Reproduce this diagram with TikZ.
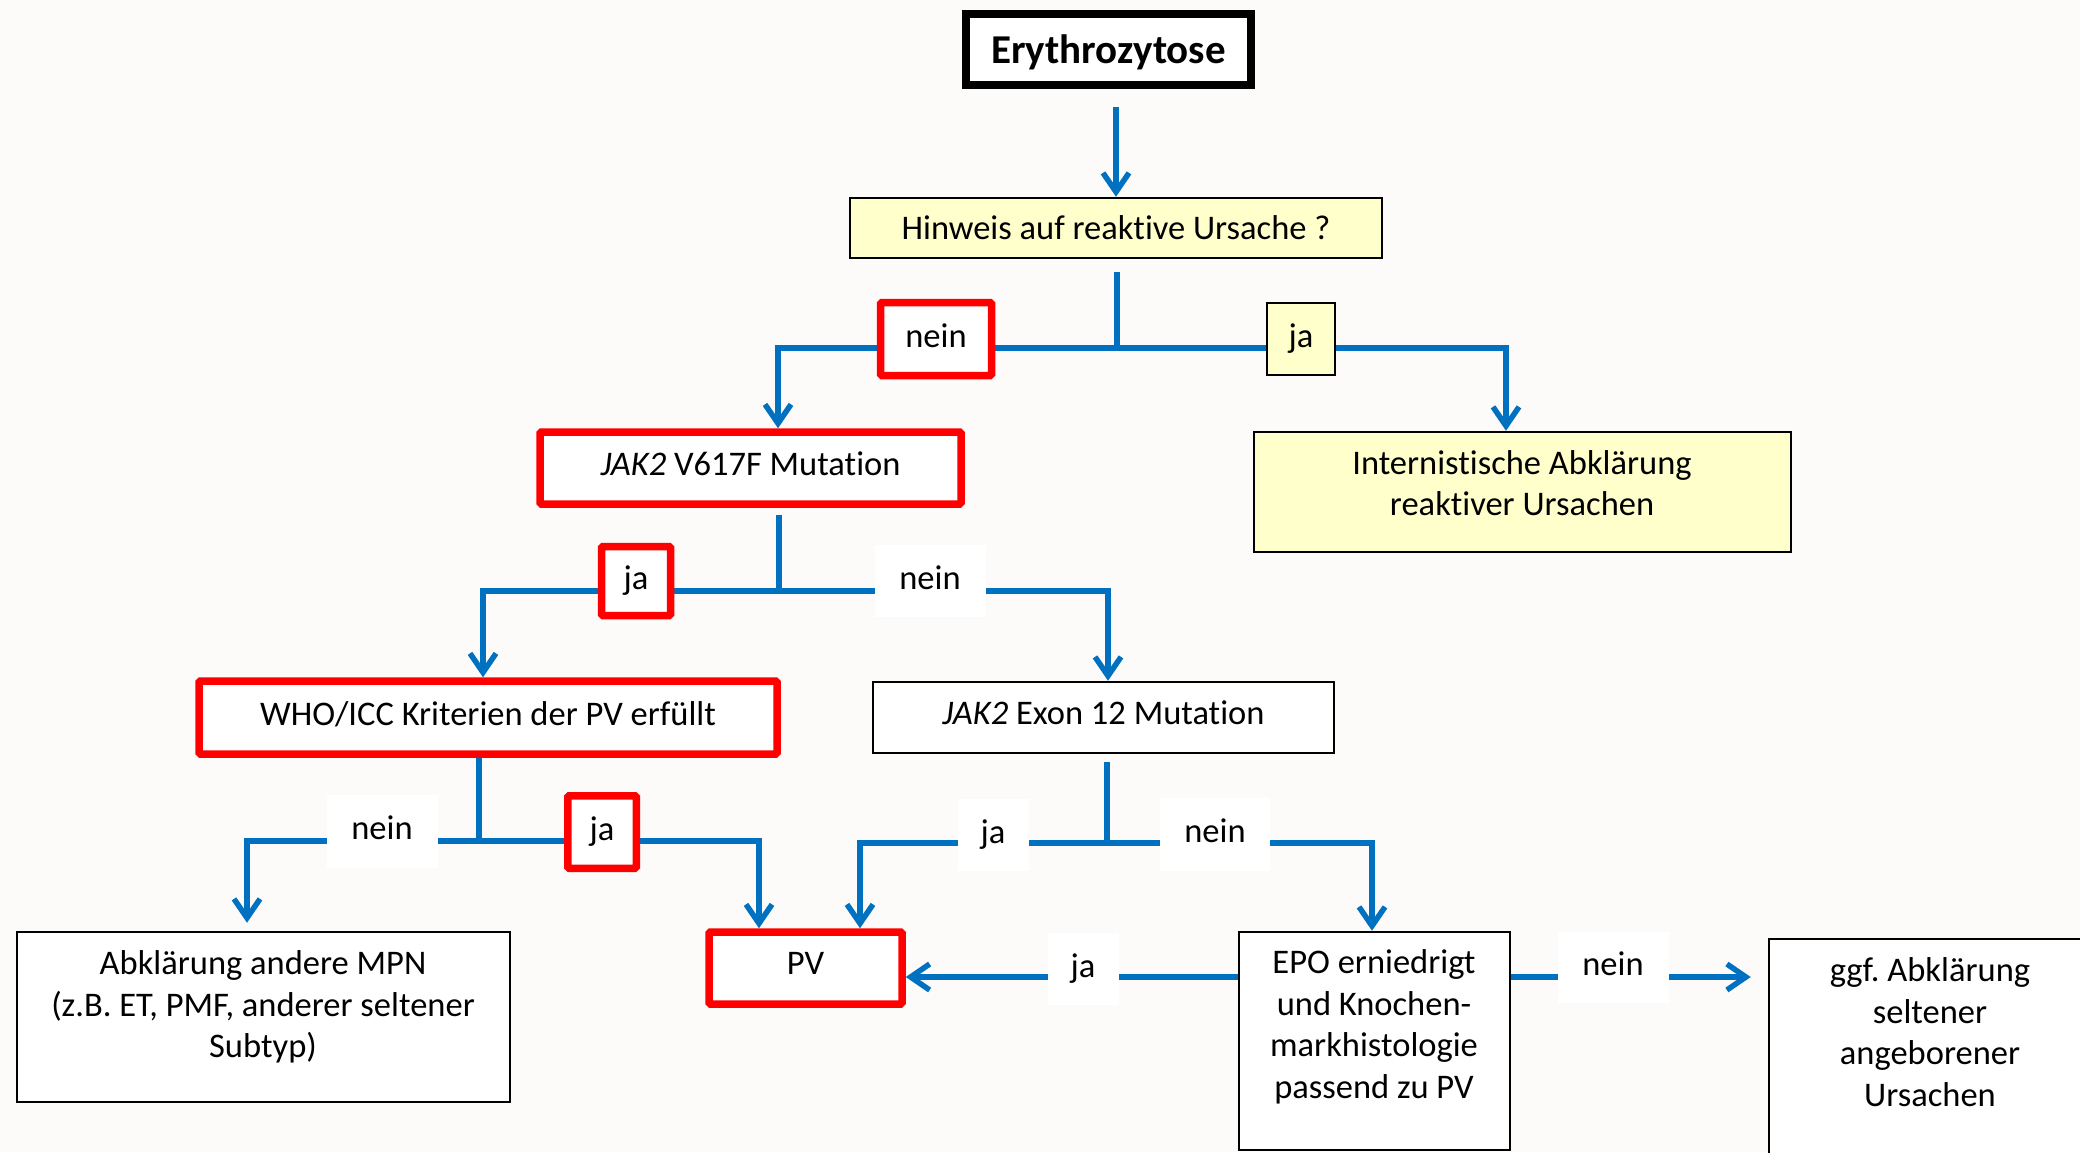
\documentclass[tikz,border=0pt]{standalone}
\usepackage{fontspec}
\setmainfont[Ligatures=NoCommon]{Carlito}
\usetikzlibrary{arrows.meta}
\definecolor{bg}{HTML}{FCFBF9}
\definecolor{cblue}{HTML}{0070C0}
\definecolor{lyellow}{HTML}{FFFFCC}
\frenchspacing
\begin{document}
\begin{tikzpicture}[x=1pt,y=-1pt,
  every node/.style={font=\fontsize{34.5}{41.5}\selectfont\frenchspacing},
  blk/.style={draw=black, line width=2.5pt, fill=white, inner sep=0pt},
  ylw/.style={draw=black, line width=2.5pt, fill=lyellow, inner sep=0pt},
  redbox/.style={draw=red, line width=7.5pt, fill=white, inner sep=0pt, rounded corners=1.5pt},
  lab/.style={fill=white, inner sep=0pt},
  txt/.style={align=center, inner sep=0pt},
  up/.style={text depth=#1},
  conn/.style={draw=cblue, line width=5.5pt},
  arr/.style={conn, -{Straight Barb[length=19pt,width=26pt]}}
]
\useasboundingbox[fill=bg] (0,0) rectangle (2080,1152);

% boxes
\node[draw=black, line width=8pt, fill=white, inner sep=0pt, minimum width=285pt, minimum height=71pt,
      text depth=0pt, font=\fontsize{41}{48}\selectfont\bfseries] (ery) at (1108.5,49.5) {Erythrozytose};
\node[ylw, minimum width=532pt, minimum height=60pt] (hin) at (1116,228) {Hinweis auf reaktive Ursache ?};
\node[redbox, minimum width=421pt, minimum height=72pt, up=9pt] (jak) at (750.5,468) {\textit{JAK2} V617F Mutation};
\node[ylw, minimum width=537pt, minimum height=120pt] (int) at (1522.5,492) {};
\node[txt] (intt) at (1522,483) {Internistische Abklärung\\reaktiver Ursachen};
\node[redbox, minimum width=578pt, minimum height=73pt, up=8pt] (who) at (488,717.5) {WHO/ICC Kriterien der PV erfüllt};
\node[blk, minimum width=461pt, minimum height=71pt, up=9pt] (exon) at (1103.5,717.5) {\textit{JAK2} Exon 12 Mutation};
\node[blk, minimum width=493pt, minimum height=170pt] (abk) at (263.5,1017) {};
\node[txt] (abkt) at (263,1007) {Abklärung andere MPN\\(z.B. ET, PMF, anderer seltener\\Subtyp)};
\node[redbox, minimum width=193pt, minimum height=72pt, up=9pt] (pv) at (805.5,968) {PV};
\node[blk, minimum width=271pt, minimum height=218pt] (epo) at (1374.5,1041) {};
\node[txt] (epot) at (1374,1027) {EPO erniedrigt\\und Knochen-\\markhistologie\\passend zu PV};
\node[blk, minimum width=340pt, minimum height=230pt] (ggf) at (1939,1054) {};
\node[txt] (ggft) at (1930,1032) {ggf. Abklärung\\seltener\\angeborener\\Ursachen};

% connectors
\coordinate (e0) at (1116,107);
\draw[arr] (e0) -- (hin.north);

\coordinate (h0) at (1117,272); \coordinate (h1) at (1117,348);
\coordinate (hL) at (778,348);  \coordinate (hR) at (1506,348);
\draw[conn] (h0) -- (h1);
\draw[arr] (h1) -- (hL) -- (hL |- jak.north);
\draw[arr] (h1) -- (hR) -- (hR |- int.north);

\coordinate (j0) at (779,515); \coordinate (j1) at (779,591);
\coordinate (jL) at (483,591); \coordinate (jR) at (1108,591);
\draw[conn] (j0) -- (j1);
\draw[arr] (j1) -- (jL) -- (jL |- who.north);
\draw[arr] (j1) -- (jR) -- (jR |- exon.north);

\coordinate (w0) at (479,758); \coordinate (w1) at (479,841);
\coordinate (wL) at (247,841); \coordinate (wR) at (759,841);
\draw[conn] (w0) -- (w1);
\draw[arr, shorten >=8pt] (w1) -- (wL) -- (wL |- abk.north);
\draw[arr] (w1) -- (wR) -- (wR |- pv.north);

\coordinate (x0) at (1107,762); \coordinate (x1) at (1107,843);
\coordinate (xL) at (860,843);  \coordinate (xR) at (1372,843);
\draw[conn] (x0) -- (x1);
\draw[arr] (x1) -- (xL) -- (xL |- pv.north);
\draw[arr] (x1) -- (xR) -- (xR |- epo.north);

\draw[arr] ([yshift=64pt]epo.west) -- ([yshift=-9pt]pv.east);
\draw[arr, shorten >=17pt] ([yshift=64pt]epo.east) -- ([yshift=77pt]ggf.west);

% labels
\node[redbox, minimum width=111pt, minimum height=73pt, up=6pt] (l1) at (936,339) {nein};
\node[ylw, minimum width=68pt, minimum height=72pt] (l2) at (1301,339) {ja};
\node[redbox, minimum width=69pt, minimum height=69pt] (l3) at (636,581) {ja};
\node[lab, minimum width=111pt, minimum height=72pt, up=6pt] (l4) at (930,581) {nein};
\node[lab, minimum width=111pt, minimum height=73pt, up=6pt] (l5) at (382,831) {nein};
\node[redbox, minimum width=68.5pt, minimum height=72.5pt] (l6) at (602,832) {ja};
\node[lab, minimum width=71pt, minimum height=72pt] (l7) at (993,835) {ja};
\node[lab, minimum width=110pt, minimum height=73pt, up=6pt] (l8) at (1215,834) {nein};
\node[lab, minimum width=71pt, minimum height=72pt] (l9) at (1083,969) {ja};
\node[lab, minimum width=111pt, minimum height=71pt, up=6pt] (l10) at (1613,967) {nein};
\end{tikzpicture}
\end{document}
